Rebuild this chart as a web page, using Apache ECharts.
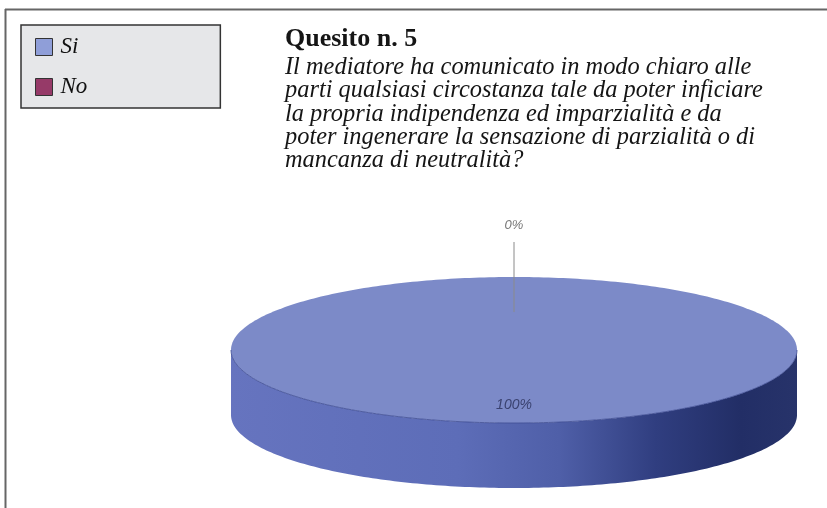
<!DOCTYPE html>
<html>
<head>
<meta charset="utf-8">
<style>
  html, body { margin: 0; padding: 0; background: #fff; }
  #chart { width: 827px; height: 508px; }
</style>
<script src="https://cdn.jsdelivr.net/npm/echarts@6/dist/echarts.min.js"></script>
</head>
<body>
<div id="chart"></div>
<script>
// Answers to question 5
const categories = ['Si', 'No'];
const values = [100, 0];
const valueLabels = ['100%', '0%'];

const titleText = 'Quesito n. 5';
const questionText = [
  'Il mediatore ha comunicato in modo chiaro alle',
  'parti qualsiasi circostanza tale da poter inficiare',
  'la propria indipendenza ed imparzialità e da',
  'poter ingenerare la sensazione di parzialità o di',
  'mancanza di neutralità?'
];

// Styling
const swatchColors = ['#8f9ed8', '#963a68'];
const topColors = ['#7c8ac8', '#9b3b6b'];
const wallStops = [
  [['0', '#6674bf'], ['0.4', '#5d6db8'], ['0.58', '#4f5fa8'], ['0.75', '#303e80'], ['0.9', '#222e66'], ['1', '#27336a']],
  [['0', '#8a3460'], ['1', '#4a1a33']]
];

// 3D disc geometry
const disc = { cx: 514, cy: 350, rx: 283, ry: 73, depth: 65 };

const total = values.reduce((a, b) => a + b, 0);
const startAngles = [];
values.reduce((acc, v, i) => { startAngles[i] = acc / total * Math.PI * 2; return acc + v; }, 0);

function pt(t, dy) {
  return [disc.cx + disc.rx * Math.sin(t), disc.cy - disc.ry * Math.cos(t) + (dy || 0)];
}
function arc(a, b, dy) {
  const n = Math.max(2, Math.ceil((b - a) / (Math.PI / 180)));
  const out = [];
  for (let k = 0; k <= n; k++) out.push(pt(a + (b - a) * k / n, dy));
  return out;
}

function renderSlice(i) {
  return function (params, api) {
    const v = api.value(0);
    const a = startAngles[i];
    const b = a + v / total * Math.PI * 2;
    const children = [];
    if (b - a > 1e-6) {
      // side wall (front half only)
      const s = Math.max(a, Math.PI / 2), e = Math.min(b, Math.PI * 1.5);
      if (e > s) {
        const top = arc(s, e, 0);
        const bottom = arc(s, e, disc.depth).reverse();
        children.push({
          type: 'polygon', z2: 0,
          shape: { points: top.concat(bottom) },
          style: {
            fill: {
              type: 'linear', global: true,
              x: disc.cx - disc.rx, y: 0, x2: disc.cx + disc.rx, y2: 0,
              colorStops: wallStops[i].map(s => ({ offset: +s[0], color: s[1] }))
            },
            stroke: null
          }
        });
      }
      // top face
      const full = (b - a) >= Math.PI * 2 - 1e-6;
      const facePts = full ? arc(a, b, 0) : [[disc.cx, disc.cy]].concat(arc(a, b, 0));
      children.push({
        type: 'polygon', z2: 1,
        shape: { points: facePts },
        style: { fill: topColors[i], stroke: null }
      });
      // front rim edge
      if (e > s) {
        children.push({
          type: 'polyline', z2: 2,
          shape: { points: arc(s, e, 0) },
          style: { stroke: '#3f4c92', lineWidth: 1, fill: null, opacity: 0.8 }
        });
      }
    }
    // value label
    const mid = (a + b) / 2;
    const frac = v / total;
    const labelStyle = {
      fontFamily: 'Liberation Sans', fontStyle: 'italic', fontSize: 13,
      align: 'center', verticalAlign: 'middle'
    };
    if (frac >= 0.05) {
      const p = [disc.cx + disc.rx * 0.75 * Math.sin(mid), disc.cy - disc.ry * 0.75 * Math.cos(mid)];
      children.push({
        type: 'text', z2: 3,
        style: Object.assign({ text: valueLabels[i], x: p[0], y: p[1], fill: '#3a4270' }, labelStyle, { fontSize: 14 })
      });
    } else {
      const p = [disc.cx + disc.rx * 0.52 * Math.sin(mid), disc.cy - disc.ry * 0.52 * Math.cos(mid)];
      const q = [p[0], disc.cy - disc.ry - 35];
      children.push({
        type: 'line', z2: 3,
        shape: { x1: p[0], y1: p[1], x2: q[0], y2: q[1] },
        style: { stroke: '#8a8a8a', lineWidth: 1 }
      });
      children.push({
        type: 'text', z2: 3,
        style: Object.assign({ text: valueLabels[i], x: q[0], y: q[1] - 17, fill: '#777' }, labelStyle)
      });
    }
    return { type: 'group', children: children };
  };
}

const chart = echarts.init(document.getElementById('chart'), null, { renderer: 'canvas' });

chart.setOption({
  backgroundColor: '#ffffff',
  animation: false,
  title: {
    text: titleText,
    subtext: questionText.join('\n'),
    left: 285, top: 26, padding: 0, itemGap: 4,
    textStyle: {
      fontFamily: 'Liberation Serif', fontWeight: 'bold', fontSize: 26,
      color: '#151515', lineHeight: 26
    },
    subtextStyle: {
      fontFamily: 'Liberation Serif', fontStyle: 'italic', fontSize: 24.4,
      color: '#151515', lineHeight: 23.3
    }
  },
  legend: {
    orient: 'vertical',
    left: 21, top: 25,
    data: categories,
    icon: 'rect',
    itemWidth: 17, itemHeight: 17, itemGap: 16,
    backgroundColor: '#e6e7e9',
    borderColor: '#333', borderWidth: 1.5, borderRadius: 0,
    padding: [10, 133, 9, 14],
    selectedMode: false,
    itemStyle: { borderColor: '#333', borderWidth: 1 },
    textStyle: {
      fontFamily: 'Liberation Serif', fontStyle: 'italic', fontSize: 23,
      color: '#111', lineHeight: 24, padding: [0, 0, 0, 3]
    }
  },
  graphic: [
    { type: 'line', shape: { x1: 5, y1: 9.5, x2: 827, y2: 9.5 }, style: { stroke: '#666', lineWidth: 2 } },
    { type: 'line', shape: { x1: 5.5, y1: 9, x2: 5.5, y2: 508 }, style: { stroke: '#666', lineWidth: 2 } }
  ],
  series: categories.map((name, i) => ({
    type: 'custom',
    name: name,
    coordinateSystem: 'none',
    itemStyle: { color: swatchColors[i] },
    data: [[values[i]]],
    renderItem: renderSlice(i)
  }))
});
</script>
</body>
</html>
